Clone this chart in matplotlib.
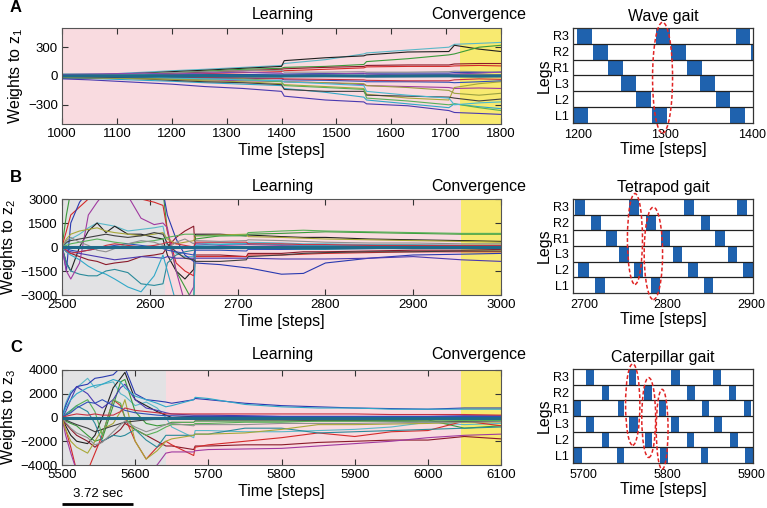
import numpy as np
import matplotlib
matplotlib.use("Agg")
import matplotlib.pyplot as plt
from matplotlib.patches import Ellipse

plt.rcParams['font.family'] = ['Liberation Sans', 'DejaVu Sans']
plt.rcParams['mathtext.fontset'] = 'custom'
plt.rcParams['mathtext.rm'] = 'Liberation Sans'
plt.rcParams['mathtext.it'] = 'Liberation Sans'

# colours (old matlab-like order)
cols = ['#5ab8c8', '#202020', '#3a9a3a', '#8a1a2a', '#d42a2a', '#2a3ab0', '#2a8a9a',
        '#a03aa0', '#4a3ab0', '#30a8c8', '#a8a838', '#404040', '#58b058', '#3050b8',
        '#c83040', '#909090', '#202a70', '#8a4ab0', '#9aa040', '#48b8d0']

# ---- panel A : weights to z1 ----
ta = [1000, 1050, 1100, 1150, 1200, 1260, 1330, 1400, 1405, 1480, 1550, 1555, 1630, 1705, 1715, 1760, 1800]
wa = [
    [10, 15, 25, 40, 55, 70, 90, 110, 130, 170, 230, 240, 270, 300, 330, 340, 350],
    [5, 10, 20, 30, 45, 60, 80, 100, 160, 190, 210, 220, 250, 255, 320, 280, 255],
    [0, 5, 15, 25, 35, 50, 70, 80, 90, 100, 120, 150, 180, 220, 230, 300, 320],
    [0, 5, 10, 20, 30, 40, 55, 70, 75, 90, 100, 110, 115, 115, 125, 130, 130],
    [0, 0, 5, 10, 15, 25, 35, 45, 55, 70, 85, 95, 100, 100, 105, 110, 105],
    [0, 5, 5, 10, 10, 15, 15, 20, 20, 25, 25, 30, 30, 30, 35, 35, 40],
    [20, 20, 15, 15, 10, 10, 5, 5, 0, 0, 0, -5, -5, -5, 0, 0, 0],
    [-10, -15, -20, -25, -30, -40, -50, -55, -60, -70, -90, -100, -110, -120, -130, -125, -130],
    [-30, -40, -55, -70, -85, -110, -130, -160, -210, -250, -270, -290, -310, -360, -380, -390, -400],
    [-20, -25, -35, -45, -55, -70, -85, -100, -130, -170, -220, -250, -290, -330, -290, -320, -340],
    [-5, -10, -15, -25, -35, -50, -60, -80, -90, -110, -130, -190, -230, -250, -120, -80, -60],
    [-10, -15, -20, -30, -45, -60, -70, -90, -140, -160, -160, -200, -210, -220, -230, -260, -240],
    [0, -5, -10, -15, -20, -30, -40, -60, -100, -120, -140, -230, -260, -300, -290, -330, -360],
    [-5, -5, -10, -10, -15, -20, -25, -30, -40, -45, -55, -60, -60, -65, -70, -60, -50],
    [0, -5, -5, -10, -10, -15, -20, -25, -30, -35, -40, -45, -50, -50, -40, -30, -35],
    [10, 15, 20, 25, 35, 45, 55, 60, 40, 40, 45, 40, 40, 45, 50, 45, 40],
    [-20, -20, -15, -10, -10, -5, -5, 0, 0, 5, 5, 5, 10, 10, 10, 10, 10],
    [15, 20, 25, 30, 20, 30, 40, 30, 10, 20, 30, 20, 10, 15, 20, 30, 40],
    [-15, -20, -25, -30, -35, -40, -30, -50, -60, -70, -80, -100, -120, -150, -180, -200, -180],
    [5, 0, -5, -10, -20, -30, -40, -50, -60, -80, -100, -160, -200, -230, -300, -280, -270],
]
zero_a = [0, 2, 0, -2, 0, 2, 0, -2, 0, 2, 0, -2, 0, 2, 0, -2, 0]

# ---- panel B : weights to z2 ----
tb = [2500, 2505, 2510, 2520, 2530, 2540, 2550, 2560, 2575, 2590, 2605, 2615, 2620, 2630, 2640,
      2650, 2652, 2680, 2710, 2712, 2750, 2775, 2800, 2850, 2900, 2955, 3000]
wb = [
    [0, 200, 500, 800, 1200, 1500, 1400, 1300, 1000, 1100, 1200, 1300, 0, -400, -600, -600, 200, 250, 200, 300, 250, 200, 200, 150, 150, 100, 100],
    [0, -1000, -1500, 0, 1000, 1500, 900, 1300, 800, 800, 600, 500, -500, -1500, -2000, -1400, 800, 800, 700, 750, 650, 600, 600, 500, 450, 400, 350],
    [0, 2000, 3500, 3500, 3500, 3500, 3500, 3500, 3500, 3500, 3500, 3500, 1000, -1500, -2500, -3500, 500, 700, 700, 800, 850, 900, 950, 900, 850, 800, 800],
    [0, -300, -400, -600, -800, -900, -1100, -1000, -900, -600, -500, -400, 0, 600, 1000, 1300, -500, -500, -600, -400, -400, -300, -300, -250, -200, -200, -150],
    [0, 1000, 2000, 2500, 3000, 3500, 3500, 3500, 3500, 3000, 2800, 2600, 1000, -1000, -1500, -1800, -600, -600, -600, -500, -500, -450, -400, -350, -300, -300, -300],
    [0, -1500, 1500, 2800, 3500, 3500, 3500, 3500, 3500, 3500, 3500, 3500, 2000, 500, -500, -900, -1000, -1100, -1300, -1300, -1700, -1650, -1000, -700, -500, -450, -400],
    [0, -1000, -1500, -1700, -1800, -1800, -1500, -1400, -1600, -2300, -2400, -2300, -1000, -500, -300, -200, -100, -100, -100, -100, -150, -150, -150, -100, -100, -100, -100],
    [0, -1500, -2000, -1000, 2000, 2800, 3500, 3500, 3200, 1800, 1400, 1500, 1200, -1500, -3500, -2500, 200, 100, 150, 150, 100, 100, 100, 100, 50, 50, 50],
    [0, -200, -300, -400, -500, -600, -700, -800, -700, -600, -650, -700, -600, -700, -700, -700, -700, -700, -700, -700, -750, -750, -750, -700, -600, -800, -900],
    [0, -300, -500, -800, -1200, -1500, -1700, -2000, -2500, -2800, -1800, -500, -1500, -3500, -3500, -3500, 100, 150, 200, 200, 150, 100, 100, 100, 100, 100, 100],
    [0, 500, 800, 1000, 1100, 1200, 1000, 900, 800, 700, 800, 900, 500, 200, 300, 400, 700, 750, 800, 650, 600, 550, 500, 450, 400, 350, 300],
    [0, 300, 400, 500, 600, 700, 800, 700, 600, 700, 900, 800, 200, -300, -700, -800, -900, -900, -800, -600, -500, -400, -350, -300, -300, -250, -250],
    [0, 100, 200, 300, 400, 500, 400, 300, 200, 300, 400, 500, 600, 700, 800, 800, 700, 700, 750, 900, 1000, 1050, 1000, 950, 900, 850, 850],
    [0, -100, -200, -300, -200, -100, 0, 100, 200, 100, 0, -100, -200, -300, -400, -500, -200, -200, -250, -150, -150, -100, -100, -100, -50, -50, -50],
    [0, -200, -400, -300, -200, -100, 100, 200, 100, 0, 100, 200, 300, 200, 100, 0, 300, 300, 300, 200, 200, 150, 150, 100, 100, 100, 100],
    [0, 400, 600, 300, 100, -200, -300, -100, 200, 400, 300, 100, -100, 300, 500, 200, 400, 350, 400, 450, 400, 350, 300, 250, 250, 200, 200],
]
zero_b = [0] * len(tb)

# ---- panel C : weights to z3 ----
tc = [5500, 5505, 5512, 5520, 5535, 5545, 5555, 5570, 5580, 5586, 5600, 5615, 5630, 5642,
      5650, 5680, 5682, 5700, 5750, 5800, 5850, 5900, 5950, 6000, 6050, 6100]
wc = [
    [0, 1200, 2200, 2500, 3300, 2500, 2800, 3000, 2000, 1800, 1000, 1300, 800, 0, -800, -1700, -1100, -1100, -1200, -1200, -1100, -1000, -800, -400, -600, -500],
    [0, -700, -1500, -2000, -2200, -1500, 0, 2500, 3300, 3800, 1500, 1000, 500, 200, 0, 100, 100, 100, 80, 50, 50, 50, 30, 30, 20, 20],
    [0, -300, -500, -700, -1500, -2000, -1800, 1000, 3000, 3200, 500, -500, -700, -600, -400, -400, -300, -300, -300, -300, -300, -300, -250, -200, -900, -700],
    [0, -500, -1000, -1500, -2000, -2500, -2000, -1500, -1000, -500, -1000, -1500, -2000, -2400, -2400, -2700, -2400, -2400, -2300, -2300, -2100, -2000, -1900, -1900, -1600, -1800],
    [0, -1000, -2500, -4500, -4500, -3000, -1500, 1500, 1000, 0, -2000, -3500, -2500, -2000, -2300, -3200, -2500, -2300, -2000, -1700, -1300, -1600, -1200, -1100, -300, -700],
    [0, 1000, 2000, 2600, 2800, 3300, 3400, 3600, 4200, 4200, 2000, 1500, 1400, 1300, 1200, 1500, 1600, 1500, 1200, 1000, 900, 800, 750, 700, 800, 800],
    [0, 300, 600, 1000, 500, -500, -2000, -1500, -1600, -1500, -1000, -1900, -2500, -1500, -1500, -1500, -1400, -1400, -900, -900, -1300, -1200, -1100, -1000, -900, -800],
    [0, -1500, -3000, -4500, -4500, -4500, -4500, -4500, -4500, -4500, -4500, -4500, -4000, -3000, -2900, -2900, -2800, -2700, -2650, -2600, -2400, -2200, -2000, -1700, -1500, -1400],
    [0, 500, 1500, 2600, 2000, 1200, 800, 1500, 2500, 2800, 1500, 800, 600, 400, 300, 200, 200, 200, 150, 100, 100, 100, 100, 100, 150, 150],
    [0, 800, 1500, 2000, 2500, 2700, 2800, 3200, 3000, 2500, 1800, 1500, 1200, 900, 1000, 1500, 1700, 1600, 1100, 900, 800, 800, 700, 700, 700, 700],
    [0, -1000, -2000, -2500, -3000, -2000, -1000, -500, 500, 1500, -2000, -3500, -2800, -2000, -1800, -1500, -1400, -1400, -1300, -1000, -600, -600, -550, -500, -400, -300],
    [0, -200, -400, -600, -900, -1200, -1000, -700, -500, -400, -300, -200, -150, -100, -150, -150, -200, -200, -200, -200, -250, -250, -300, -300, -350, -350],
    [0, 200, 500, 1000, 1500, 500, -1500, 1500, 1200, 0, -1000, -1500, -1200, -800, -600, -600, -500, -500, -400, -400, -300, -300, -300, -300, -250, -250],
    [0, 200, 400, 800, 1300, 1200, 1500, 1000, 800, 600, 400, 300, 200, 150, 150, 100, 100, 100, 100, 80, 80, 80, 80, 80, 80, 80],
    [0, 100, 200, 300, 200, 300, 200, 200, 500, 800, 600, 500, 400, 300, 300, 300, 300, 300, 300, 300, 300, 300, 250, 250, 250, 200],
    [0, -400, -900, -1300, -1700, -2300, -2100, -1200, -600, -300, -800, -1200, -900, -600, -500, -700, -600, -600, -600, -500, -500, -500, -450, -400, -400, -350],
]
zero_c = [0] * len(tc)

# phase boundaries: (gray end, convergence start)
phase_a = (1000, 1725)
phase_b = (2617, 2955)
phase_c = (5642, 6045)

# ---- gait diagrams: swing intervals, legs bottom->top ----
legs = ['L1', 'L2', 'L3', 'R1', 'R2', 'R3']
wave_swing = [
    [(1194, 1211), (1285, 1302), (1375, 1392)],
    [(1267, 1284), (1358, 1375)],
    [(1249, 1266), (1340, 1357)],
    [(1234, 1251), (1325, 1342)],
    [(1217, 1234), (1307, 1324), (1399, 1401)],
    [(1199, 1216), (1290, 1306), (1381, 1398)],
]
tetra_swing = [
    [(2713, 2725), (2780, 2791), (2843, 2854)],
    [(2693, 2706), (2760, 2771), (2824, 2836), (2890, 2902)],
    [(2742, 2754), (2806, 2817), (2872, 2883)],
    [(2727, 2739), (2792, 2803), (2857, 2868)],
    [(2708, 2720), (2774, 2786), (2840, 2851)],
    [(2689, 2701), (2754, 2766), (2820, 2831), (2883, 2895)],
]
cat_swing = [
    [(5689, 5699), (5740, 5749), (5792, 5801), (5840, 5849), (5892, 5902)],
    [(5722, 5731), (5774, 5782), (5824, 5832), (5875, 5884)],
    [(5704, 5713), (5755, 5765), (5805, 5814), (5856, 5865)],
    [(5689, 5698), (5741, 5749), (5790, 5799), (5841, 5850), (5891, 5900)],
    [(5722, 5731), (5773, 5782), (5824, 5833), (5873, 5882)],
    [(5703, 5713), (5754, 5763), (5805, 5815), (5854, 5864)],
]
# ellipses (x, y, width, height)
wave_ell = [(1297, 2.36, 23, 7.0)]
tetra_ell = [(2761, 2.95, 18, 5.8), (2783, 2.03, 22, 5.9)]
cat_ell = [(5759, 3.23, 17, 5.2), (5778, 2.4, 16.5, 5.1), (5794, 1.65, 14, 5.1)]

W, H = 767, 508
fig = plt.figure(figsize=(W / 100, H / 100), dpi=100)


def box(l, t, r, b):
    return [l / W, 1 - b / H, (r - l) / W, (b - t) / H]


def weights_panel(pos, t, w, zero, phase, ylim, yticks, xticks, zi):
    ax = fig.add_axes(pos)
    x0, x1 = t[0], t[-1]
    if phase[0] > x0:
        ax.axvspan(x0, phase[0], color='#e2e2e4', lw=0)
    ax.axvspan(phase[0], phase[1], color='#f9dbe0', lw=0)
    ax.axvspan(phase[1], x1, color='#f8ea70', lw=0)
    for i, s in enumerate(w):
        ax.plot(t, s, color=cols[i % len(cols)], lw=0.8)
    ax.plot(t, zero, color='#1f6a8a', lw=2.2)
    ax.set_xlim(x0, x1)
    ax.set_ylim(*ylim)
    ax.set_xticks(xticks)
    ax.set_yticks(yticks)
    ax.tick_params(direction='in', top=True, right=True, length=4, labelsize=9.5,
                   color='#333333', pad=3)
    for sp in ax.spines.values():
        sp.set_color('#555555')
        sp.set_linewidth(0.8)
    ax.set_xlabel('Time [steps]', fontsize=11.5, labelpad=2)
    ax.set_ylabel('Weights to z$_{%d}$' % zi, fontsize=11.5, labelpad=2)
    return ax


def gait_panel(pos, swing, ell, xlim, xticks, title):
    ax = fig.add_axes(pos)
    for k, iv in enumerate(swing):
        ax.broken_barh([(a, b - a) for a, b in iv], (k - 0.5, 1.0),
                       facecolor='#1f62ae', edgecolor='none')
    for k in range(5):
        ax.axhline(k + 0.5, color='#222222', lw=0.9)
    for (cx, cy, ew, eh) in ell:
        ax.add_patch(Ellipse((cx, cy), ew, eh, fill=False, ec='#e02424',
                             ls=(0, (2.5, 1.5)), lw=1.1, clip_on=False, zorder=5))
    ax.set_xlim(*xlim)
    ax.set_ylim(-0.5, 5.5)
    ax.set_yticks(range(6))
    ax.set_yticklabels(legs)
    ax.set_xticks(xticks)
    ax.tick_params(axis='y', length=0, labelsize=9, pad=3)
    ax.tick_params(axis='x', direction='in', length=0, labelsize=9, pad=4)
    for sp in ax.spines.values():
        sp.set_color('#333333')
        sp.set_linewidth(0.9)
    ax.set_xlabel('Time [steps]', fontsize=11.5, labelpad=1)
    ax.set_ylabel('Legs', fontsize=11.5, labelpad=1)
    ax.set_title(title, fontsize=11.5, pad=5)
    return ax


weights_panel(box(62, 28, 501, 124), ta, wa, zero_a, phase_a, (-500, 500),
              [-300, 0, 300], range(1000, 1801, 100), 1)
weights_panel(box(62, 199, 501, 295), tb, wb, zero_b, phase_b, (-3000, 3000),
              [-3000, -1500, 0, 1500, 3000], range(2500, 3001, 100), 2)
axc = weights_panel(box(62, 370, 501, 465), tc, wc, zero_c, phase_c, (-4000, 4000),
                    [-4000, -2000, 0, 2000, 4000], range(5500, 6101, 100), 3)

gait_panel(box(573, 28, 753, 123), wave_swing, wave_ell, (1194, 1401),
           [1200, 1300, 1400], 'Wave gait')
gait_panel(box(573, 199, 753, 293), tetra_swing, tetra_ell, (2687, 2902),
           [2700, 2800, 2900], 'Tetrapod gait')
gait_panel(box(573, 369, 753, 463), cat_swing, cat_ell, (5688, 5902),
           [5700, 5800, 5900], 'Caterpillar gait')

# phase labels and panel letters
for y in [15, 186, 355]:
    fig.text(283 / W, 1 - y / H, 'Learning', ha='center', va='center', fontsize=11.5)
    fig.text(479 / W, 1 - y / H, 'Convergence', ha='center', va='center', fontsize=11.5)
for y, letter in [(8, 'A'), (178, 'B'), (348, 'C')]:
    fig.text(10 / W, 1 - y / H, letter, ha='left', va='center', fontsize=12, fontweight='bold')

# scale bar
bar_len = 97
axc.plot([5500, 5500 + bar_len], [-0.41, -0.41], color='black', lw=2,
         transform=axc.get_xaxis_transform(), clip_on=False, solid_capstyle='butt')
fig.text(98 / W, 1 - 494 / H, '3.72 sec', ha='center', va='center', fontsize=9.5)

fig.savefig('out.png', dpi=100)
